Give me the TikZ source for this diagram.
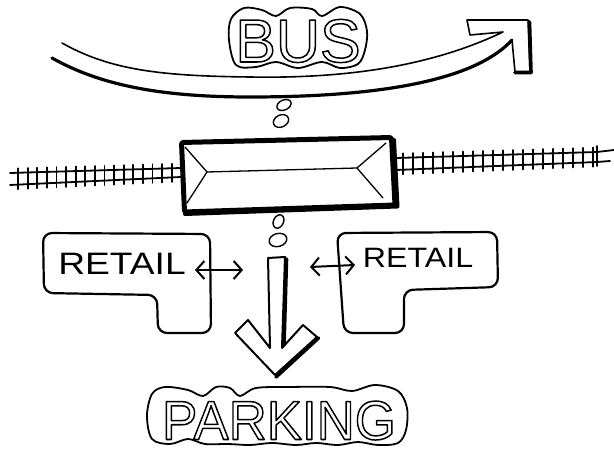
\documentclass[tikz,border=0pt]{standalone}
\usepackage{fontspec}
\setmainfont{Liberation Sans}
\usetikzlibrary{arrows.meta}
\newcommand{\strokedword}[1]{\special{pdf:literal direct 1 Tr 1.5 w}#1\special{pdf:literal direct 0 Tr}}
\begin{document}
\begin{tikzpicture}[x=1pt,y=-1pt,line join=round,line cap=round,
  ink/.style={draw=black,line width=2pt},
  thinink/.style={draw=black,line width=1.3pt},
  railline/.style={draw=black,line width=1.8pt},
  shadowink/.style={draw=black,line width=3.6pt},
  bubble/.style={draw=black,fill=white,line width=1.8pt},
  retailbox/.style={draw=black,line width=2.2pt,rounded corners=9pt},
  linkoval/.style={draw=black,line width=1.4pt},
  barbs/.style={line width=2pt,{Straight Barb[length=8pt,width=18pt]}-{Straight Barb[length=8pt,width=18pt]}},
  label/.style={anchor=base,inner sep=0pt}]
\useasboundingbox[fill=white] (0,0) rectangle (614,449);

% ---------------- bus route ----------------
\draw[line width=1.6pt] (62,43) .. controls (110,70) and (160,76) .. (250,77)
  .. controls (360,79) and (440,62) .. (503,32)
  -- (470,35) -- (467,20) -- (528,20) -- (530,72) -- (515,72) -- (512,40);
\draw[line width=3.2pt] (512,40) .. controls (480,75) and (400,97) .. (250,97)
  .. controls (160,97) and (100,85) .. (52,58);
\draw[shadowink] (529.5,22) -- (531,72.5) -- (515,72.5);
\draw[bubble] plot[smooth cycle,tension=0.55] coordinates {
  (229,40) (231,19) (244,8) (262,10) (276,16) (290,8) (312,9) (322,16)
  (340,7) (360,14) (367,31) (365,50) (358,64) (340,68) (322,62) (298,68)
  (276,62) (256,67) (236,65)};
\node[label] (bus) at (298,62) {\fontsize{61}{61}\selectfont\strokedword{BUS}};

% links bus - station
\draw[linkoval,rotate around={25:(284,105)}] (284,105) ellipse [x radius=7.5pt,y radius=5pt];
\draw[linkoval,rotate around={25:(281,121)}] (281,121) ellipse [x radius=8pt,y radius=6pt];

% ---------------- tracks ----------------
\draw[railline] (10,173) -- (181,168);
\draw[railline] (10,185) -- (181,177);
\foreach \i in {0,...,16}{
  \pgfmathsetmacro\xx{18+\i*9.6}
  \draw[railline] ({\xx},{173-(\xx-10)*5/171-4.5}) -- ({\xx},{185-(\xx-10)*8/171+4.5});
}
\draw[railline] (396,158) -- (597,152) -- (614,150);
\draw[railline] (396,170) -- (597,162) -- (610,161);
\foreach \i in {0,...,19}{
  \pgfmathsetmacro\xx{403+\i*10}
  \draw[railline] ({\xx},{158-(\xx-398)*6/199-4.5}) -- ({\xx},{170-(\xx-398)*8/199+4.5});
}
\draw[railline] (597,146) -- (597,166);

% ---------------- station ----------------
\draw[line width=5pt,rounded corners=2pt,fill=white] (181.5,142.5) -- (391.5,137.5) -- (395,205) -- (184.5,212) -- cycle;
\draw[line width=4pt] (394,140) -- (397.5,206.5) -- (185,214);
\draw[thinink] (185,147) -- (207,172) -- (187,203);
\draw[thinink] (386,143) -- (357,168) -- (383,198);
\draw[thinink] (207,172) -- (357,168);

% links station - parking arrow
\draw[linkoval,rotate around={-25:(278.5,221.5)}] (278.5,221.5) ellipse [x radius=5pt,y radius=7pt];
\draw[linkoval,rotate around={15:(278,240)}] (278,240) ellipse [x radius=9pt,y radius=6.5pt];

% ---------------- retail ----------------
\draw[retailbox] (43,233) -- (210,234) -- (211,333) -- (158,333) -- (157,295) -- (44,293) -- cycle;
\node[label] (retailL) at (122,275) {\fontsize{31}{31}\selectfont\scalebox{1.2}[1]{RETAIL}};
\draw[retailbox] (337,233) -- (497,232) -- (498,287) -- (404,290) -- (404,333) -- (344,333) -- cycle;
\node[label] (retailR) at (418,268) {\fontsize{28}{28}\selectfont\scalebox{1.15}[1]{RETAIL}};

\coordinate (aL1) at (195,270);
\coordinate (aL2) at (243,270);
\coordinate (aR1) at (310,267);
\coordinate (aR2) at (355,265);
\draw[barbs] (aL1) -- (aL2);
\draw[barbs] (aR1) -- (aR2);

% ---------------- parking arrow ----------------
\draw[ink,fill=white] (268,258) -- (285,257) -- (282,348) -- (303,325) -- (317,337) -- (275,375)
  -- (235,333) -- (248,320) -- (270,348) -- cycle;
\draw[shadowink] (286.5,259) -- (284,345);
\draw[shadowink] (318.5,338) -- (276,377);

\draw[bubble] plot[smooth cycle,tension=0.55] coordinates {
  (147,416) (152,394) (165,387) (188,390) (203,396) (216,387) (230,388) (240,396)
  (256,388) (290,387) (330,387) (352,391) (375,385) (398,391) (407,408) (406,430)
  (398,443) (378,445) (358,442) (338,445) (316,443) (296,445) (272,443) (250,445)
  (228,444) (205,444) (188,439) (170,444) (152,439)};
\node[label] (parking) at (279,439.5) {\fontsize{55}{55}\selectfont\scalebox{0.96}[1]{\strokedword{PARKING}}};
\end{tikzpicture}
\end{document}
